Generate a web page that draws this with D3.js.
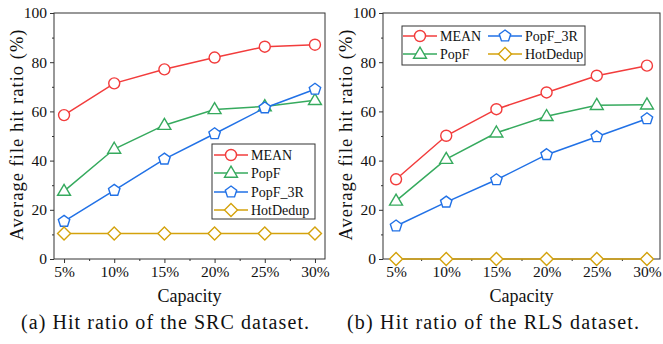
<!DOCTYPE html>
<html>
<head>
<meta charset="utf-8">
<script src="https://cdn.jsdelivr.net/npm/d3@7"></script>
<style>
  body { margin: 0; background: #fff; }
  svg text { font-family: "Liberation Serif", "Times New Roman", serif; fill: #111; }
</style>
</head>
<body>
<svg id="chart" width="663" height="344"></svg>
<script>
const CAPACITY = [5, 10, 15, 20, 25, 30];
const TICK_LABELS = ["5%", "10%", "15%", "20%", "25%", "30%"];
const SERIES_NAMES = ["MEAN", "PopF", "PopF_3R", "HotDedup"];

const SRC_MEAN = [58.5, 71.4, 77.1, 81.9, 86.3, 87.1];
const SRC_POPF = [27.6, 44.7, 54.4, 60.8, 62.0, 64.5];
const SRC_POPF3R = [15.3, 27.9, 40.6, 50.9, 61.4, 69.0];
const SRC_HOTDEDUP = [10.4, 10.4, 10.4, 10.4, 10.4, 10.4];

const RLS_MEAN = [32.4, 50.1, 60.9, 67.7, 74.5, 78.6];
const RLS_POPF = [23.6, 40.6, 51.3, 58.0, 62.5, 62.7];
const RLS_POPF3R = [13.4, 23.1, 32.2, 42.4, 49.7, 57.0];
const RLS_HOTDEDUP = [0, 0, 0, 0, 0, 0];

const COLORS = ["#f23c3c", "#36aa5e", "#2171e6", "#d4a20c"];
const SHAPES = ["circle", "triangle", "pentagon", "diamond"];

const svg = d3.select("#chart");

// marker path centred on 0,0
const markerPath = (shape) => {
  if (shape === "circle") return d3.symbol(d3.symbolCircle, 95)();
  if (shape === "diamond") {
    const r = 6.5;
    return `M0,${-r}L${r},0L0,${r}L${-r},0Z`;
  }
  if (shape === "triangle") {
    const r = 6.8;
    return `M0,${-r}L${r * 0.95},${r * 0.62}L${-r * 0.95},${r * 0.62}Z`;
  }
  // pentagon
  const r = 6;
  let pts = d3.range(5).map(i => {
    const a = -Math.PI / 2 + i * 2 * Math.PI / 5;
    return [r * Math.cos(a), r * Math.sin(a)];
  });
  return "M" + pts.map(p => p.join(",")).join("L") + "Z";
};

const drawPanel = (cfg) => {
  const x = d3.scaleLinear().domain(cfg.xDomain).range([cfg.left, cfg.right]);
  const y = d3.scaleLinear().domain([0, 100]).range([cfg.bottom, cfg.top]);
  const g = svg.append("g");

  // frame
  g.append("rect")
   .attr("x", cfg.left).attr("y", cfg.top)
   .attr("width", cfg.right - cfg.left).attr("height", cfg.bottom - cfg.top)
   .attr("fill", "none").attr("stroke", "#333").attr("stroke-width", 1);

  // y axis
  const yAxis = g.append("g")
    .attr("transform", `translate(${cfg.left},0)`)
    .call(d3.axisLeft(y).tickValues([0, 20, 40, 60, 80, 100]).tickSize(4).tickPadding(3));
  yAxis.select(".domain").remove();
  yAxis.selectAll("line").attr("stroke", "#333");
  yAxis.selectAll("text").attr("font-size", 15.5).attr("font-family", "Liberation Serif").attr("fill", "#111");
  g.append("g")
   .attr("transform", `translate(${cfg.left},0)`)
   .call(d3.axisLeft(y).tickValues([10, 30, 50, 70, 90]).tickSize(2).tickFormat(""))
   .call(s => s.select(".domain").remove())
   .selectAll("line").attr("stroke", "#333");

  // x axis
  const xAxis = g.append("g")
    .attr("transform", `translate(0,${cfg.bottom})`)
    .call(d3.axisBottom(x).tickValues(CAPACITY).tickFormat((d, i) => TICK_LABELS[i]).tickSize(4).tickPadding(3));
  xAxis.select(".domain").remove();
  xAxis.selectAll("line").attr("stroke", "#333");
  xAxis.selectAll("text").attr("font-size", 15.5).attr("font-family", "Liberation Serif").attr("fill", "#111");
  g.append("g")
   .attr("transform", `translate(0,${cfg.bottom})`)
   .call(d3.axisBottom(x).tickValues([7.5, 12.5, 17.5, 22.5, 27.5]).tickSize(2).tickFormat(""))
   .call(s => s.select(".domain").remove())
   .selectAll("line").attr("stroke", "#333");

  // axis titles
  g.append("text")
   .attr("transform", `translate(${cfg.left - 31},${(cfg.top + cfg.bottom) / 2 - 1}) rotate(-90)`)
   .attr("text-anchor", "middle").attr("font-size", 18.5)
   .attr("textLength", 211).attr("lengthAdjust", "spacing")
   .text("Average file hit ratio (%)");
  g.append("text")
   .attr("x", (cfg.left + cfg.right) / 2).attr("y", cfg.bottom + 43)
   .attr("text-anchor", "middle").attr("font-size", 18)
   .attr("textLength", 64).attr("lengthAdjust", "spacing")
   .text("Capacity");

  // series
  const line = d3.line().x((d, i) => x(CAPACITY[i])).y(d => y(d));
  cfg.series.forEach((vals, k) => {
    g.append("path").datum(vals)
     .attr("d", line).attr("fill", "none")
     .attr("stroke", COLORS[k]).attr("stroke-width", 1.5);
    g.selectAll(null).data(vals).enter().append("path")
     .attr("d", markerPath(SHAPES[k]))
     .attr("transform", (d, i) => `translate(${x(CAPACITY[i])},${y(d)})`)
     .attr("fill", "#fff").attr("stroke", COLORS[k]).attr("stroke-width", 1.4);
  });

  // legend
  const lg = g.append("g");
  lg.append("rect")
    .attr("x", cfg.legend.x).attr("y", cfg.legend.y)
    .attr("width", cfg.legend.w).attr("height", cfg.legend.h)
    .attr("fill", "#fff").attr("stroke", "#333").attr("stroke-width", 1);
  cfg.legend.items.forEach((it, k) => {
    lg.append("line")
      .attr("x1", it.x).attr("x2", it.x + 34).attr("y1", it.y).attr("y2", it.y)
      .attr("stroke", COLORS[k]).attr("stroke-width", 1.5);
    lg.append("path")
      .attr("d", markerPath(SHAPES[k]))
      .attr("transform", `translate(${it.x + 17},${it.y})`)
      .attr("fill", "#fff").attr("stroke", COLORS[k]).attr("stroke-width", 1.4);
    lg.append("text")
      .attr("x", it.x + 37).attr("y", it.y + 5)
      .attr("font-size", 14)
      .text(SERIES_NAMES[k]);
  });

  // caption
  svg.append("text")
     .attr("x", cfg.captionX).attr("y", 329)
     .attr("text-anchor", "middle").attr("font-size", 20)
     .attr("textLength", cfg.captionLen).attr("lengthAdjust", "spacing")
     .text(cfg.caption);
};

drawPanel({
  left: 54, right: 325, top: 13, bottom: 259,
  xDomain: [4, 31],
  series: [SRC_MEAN, SRC_POPF, SRC_POPF3R, SRC_HOTDEDUP],
  legend: {
    x: 212, y: 144, w: 103, h: 75,
    items: [{x: 214, y: 155}, {x: 214, y: 173}, {x: 214, y: 192}, {x: 214, y: 210}]
  },
  caption: "(a) Hit ratio of the SRC dataset.",
  captionX: 165, captionLen: 288
});

drawPanel({
  left: 383, right: 660, top: 13, bottom: 259,
  xDomain: [3.7, 31.3],
  series: [RLS_MEAN, RLS_POPF, RLS_POPF3R, RLS_HOTDEDUP],
  legend: {
    x: 402, y: 26, w: 183, h: 39,
    items: [{x: 403, y: 36}, {x: 403, y: 54}, {x: 488, y: 36}, {x: 488, y: 54}]
  },
  caption: "(b) Hit ratio of the RLS dataset.",
  captionX: 493, captionLen: 292
});
</script>
</body>
</html>
